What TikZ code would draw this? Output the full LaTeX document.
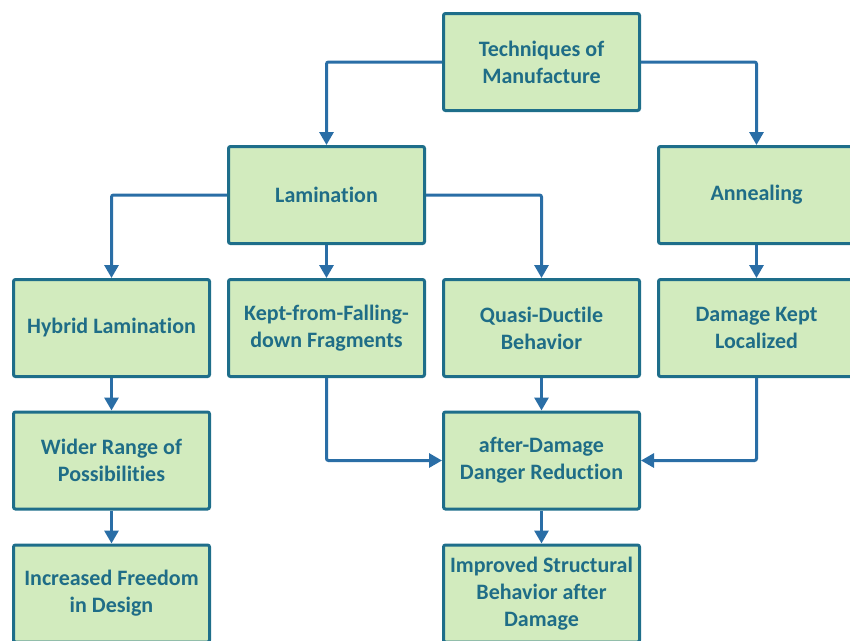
\documentclass[tikz,border=0pt]{standalone}
\usepackage{fontspec}
\setmainfont[Ligatures=NoCommon]{Carlito}
\usetikzlibrary{arrows.meta}
\definecolor{boxfill}{HTML}{D2EBBE}
\definecolor{boxline}{HTML}{1E6E8A}
\definecolor{boxtext}{HTML}{1F6D87}
\definecolor{linkcol}{HTML}{2A6EA6}
\tikzset{
  stage/.style={draw=boxline, line width=3pt, fill=boxfill, rounded corners=2pt,
    minimum width=196pt, minimum height=97pt, inner sep=2pt, align=center,
    text=boxtext, font=\fontsize{22}{27}\selectfont\bfseries},
  link/.style={draw=linkcol, line width=3pt, rounded corners=2pt,
    -{Triangle[length=13pt,width=14pt]}}
}
\begin{document}
\begin{tikzpicture}[x=1pt,y=-1pt]
\useasboundingbox (0,0) rectangle (850,640);
\clip (0,0) rectangle (850,640);
% top level
\node[stage] (tech) at (541.5,62) {Techniques of\\Manufacture};
% second level
\node[stage] (lam) at (326.5,195) {Lamination};
\node[stage] (ann) at (756.5,195) {Annealing};
% third level
\node[stage] (hyb) at (111.5,328) {Hybrid Lamination};
\node[stage] (kept) at (326.5,328) {Kept-from-Falling-\\down Fragments};
\node[stage] (quasi) at (541.5,328) {Quasi-Ductile\\Behavior};
\node[stage] (local) at (756.5,328) {Damage Kept\\Localized};
% fourth level
\node[stage] (wider) at (111.5,460.5) {Wider Range of\\Possibilities};
\node[stage] (after) at (541.5,460.5) {after-Damage\\Danger Reduction};
% bottom level
\node[stage] (free) at (111.5,593.5) {Increased Freedom\\in Design};
\node[stage] (impr) at (541.5,593.5) {Improved Structural\\Behavior after\\Damage};
% connectors
\draw[link] (tech.west) -| (lam.north);
\draw[link] (tech.east) -| (ann.north);
\draw[link] (lam.west) -| (hyb.north);
\draw[link] (lam.south) -- (kept.north);
\draw[link] (lam.east) -| (quasi.north);
\draw[link] (ann.south) -- (local.north);
\draw[link] (hyb.south) -- (wider.north);
\draw[link] (wider.south) -- (free.north);
\draw[link] (kept.south) |- (after.west);
\draw[link] (quasi.south) -- (after.north);
\draw[link] (local.south) |- (after.east);
\draw[link] (after.south) -- (impr.north);
\end{tikzpicture}
\end{document}
